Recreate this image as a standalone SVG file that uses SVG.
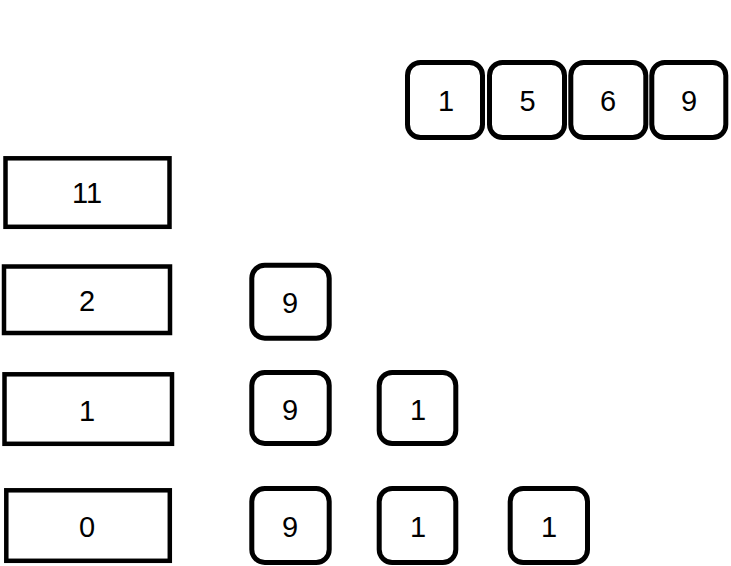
<svg xmlns="http://www.w3.org/2000/svg" width="731" height="566" viewBox="0 0 731 566">
<style>
.sq{fill:#fff;stroke:#000;stroke-width:4.5}
.rd{fill:#fff;stroke:#000;stroke-width:5}
.t{font-family:"Liberation Sans",Arial,sans-serif;font-size:29px;fill:#000;text-anchor:middle}
</style>
<rect width="731" height="566" fill="#fff"/>
<g id="top-1"><rect class="rd" x="407.5" y="62.5" width="75" height="75" rx="13"/><text class="t" x="446" y="110.5">1</text></g>
<g id="top-5"><rect class="rd" x="489.5" y="62.5" width="75" height="75" rx="13"/><text class="t" x="527.5" y="110.5">5</text></g>
<g id="top-6"><rect class="rd" x="570.8" y="62.5" width="75" height="75" rx="13"/><text class="t" x="608" y="110.5">6</text></g>
<g id="top-9"><rect class="rd" x="651.8" y="62.5" width="74" height="75" rx="13"/><text class="t" x="689" y="110.5">9</text></g>

<g id="row-11"><rect class="sq" x="5.5" y="158.3" width="164" height="68.5"/><text class="t" x="87" y="203">11</text></g>
<g id="row-2"><rect class="sq" x="4" y="266.5" width="166" height="66.5"/><text class="t" x="87" y="311">2</text></g>
<g id="row-1"><rect class="sq" x="4.5" y="374.3" width="167.5" height="69.5"/><text class="t" x="87" y="421">1</text></g>
<g id="row-0"><rect class="sq" x="6.3" y="490.3" width="163.5" height="70.5"/><text class="t" x="87" y="537">0</text></g>

<g id="r2-9"><rect class="rd" x="251.8" y="265.2" width="77.4" height="73" rx="13"/><text class="t" x="290" y="313.3">9</text></g>
<g id="r3-9"><rect class="rd" x="251.8" y="372.5" width="77.4" height="71" rx="13"/><text class="t" x="290" y="420">9</text></g>
<g id="r3-1"><rect class="rd" x="379.2" y="372.5" width="76.6" height="71" rx="13"/><text class="t" x="418" y="420">1</text></g>
<g id="r4-9"><rect class="rd" x="251.8" y="488.5" width="77.4" height="74" rx="13"/><text class="t" x="290" y="536.5">9</text></g>
<g id="r4-1a"><rect class="rd" x="379.2" y="488.5" width="76.6" height="74" rx="13"/><text class="t" x="418" y="536.5">1</text></g>
<g id="r4-1b"><rect class="rd" x="510.2" y="488.5" width="77.3" height="74" rx="13"/><text class="t" x="549" y="536.5">1</text></g>
<g id="connectors"></g>
</svg>
